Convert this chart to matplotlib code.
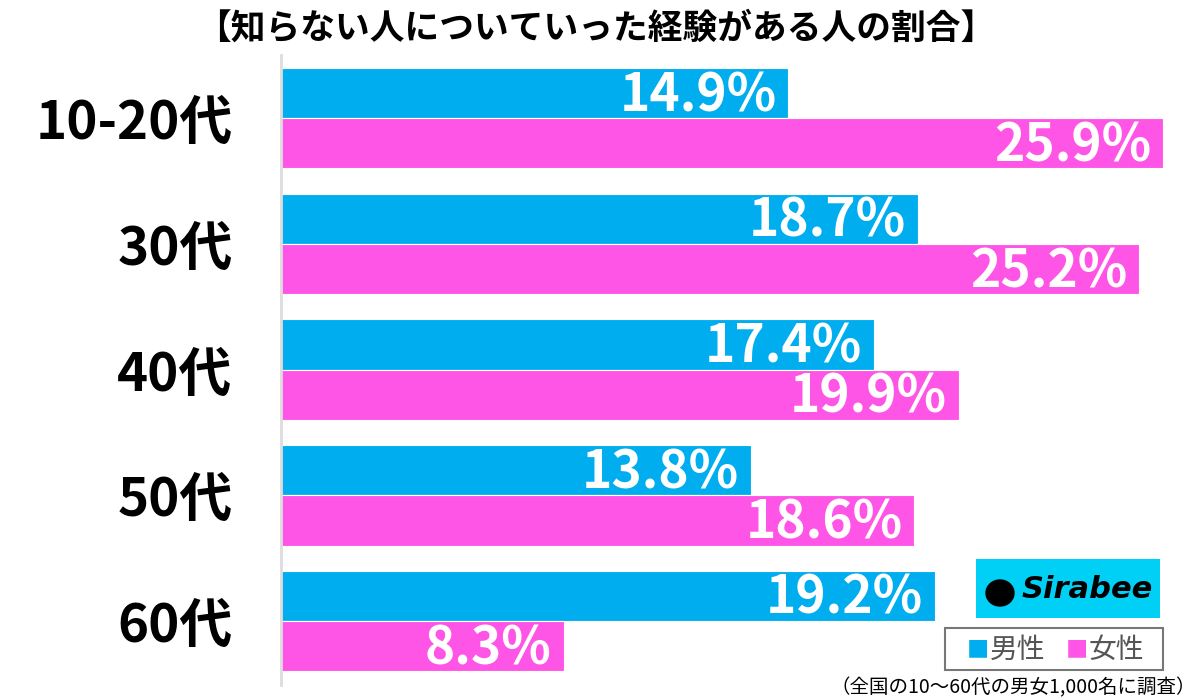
import matplotlib.pyplot as plt
from matplotlib.patches import Rectangle, Ellipse
import numpy as np

plt.rcParams['font.family'] = ['Noto Sans CJK JP', 'DejaVu Sans']

categories = ["10-20代", "30代", "40代", "50代", "60代"]
male = [14.9, 18.7, 17.4, 13.8, 19.2]
female = [25.9, 25.2, 19.9, 18.6, 8.3]
series_names = ["男性", "女性"]
title = "【知らない人についていった経験がある人の割合】"
note = "（全国の10〜60代の男女1,000名に調査）"

BLUE = "#00AEEF"
PINK = "#FF55E6"


def main():
    fig = plt.figure(figsize=(12, 6.99), dpi=100)
    W, H = 1200, 699
    left, right = 281 / W, 1163 / W
    top, bottom = 55 / H, 685 / H
    ax = fig.add_axes([left, 1 - bottom, right - left, bottom - top])

    y = np.arange(len(categories))
    h = 0.4
    ax.barh(y - h / 2, male, height=h, color=BLUE, edgecolor="white", linewidth=0.8)
    ax.barh(y + h / 2, female, height=h, color=PINK, edgecolor="white", linewidth=0.8)

    for yi, v in zip(y, male):
        ax.text(v - 0.35, yi - h / 2 + 0.02, f"{v}%", color="white", fontsize=37,
                fontweight="bold", ha="right", va="center")
    for yi, v in zip(y, female):
        ax.text(v - 0.35, yi + h / 2 + 0.02, f"{v}%", color="white", fontsize=37,
                fontweight="bold", ha="right", va="center")

    ax.set_xlim(0, 25.9)
    ax.set_ylim(4.51, -0.503)
    ax.set_yticks(y)
    ax.set_yticklabels(categories, fontsize=38, fontweight="bold")
    ax.tick_params(axis="y", length=0, pad=35)
    ax.set_xticks([])
    for s in ["top", "right", "bottom"]:
        ax.spines[s].set_visible(False)
    ax.spines["left"].set_color("#dddddd")
    ax.spines["left"].set_linewidth(2)

    fig.text(596 / W, 1 - 28 / H, title, fontsize=25, fontweight="bold",
             ha="center", va="center")

    # Sirabee logo
    fig.patches.append(Rectangle((976 / W, 1 - 618 / H), 184 / W, 59 / H,
                                 transform=fig.transFigure, facecolor="#00D0F5",
                                 edgecolor="none"))
    fig.text(1022 / W, 1 - 590 / H, "Sirabee", fontsize=22, fontweight="bold",
             style="italic", family="DejaVu Sans", ha="left", va="center")
    fig.patches.append(Ellipse((1000 / W, 1 - 593 / H), 28 / W, 26 / H,
                               transform=fig.transFigure, color="black"))

    # legend box
    fig.patches.append(Rectangle((945 / W, 1 - 670 / H), 218 / W, 42 / H,
                                 transform=fig.transFigure, facecolor="white",
                                 edgecolor="#777777", linewidth=1.5))
    fig.text(967 / W, 1 - 650 / H, "■", color=BLUE, fontsize=16, ha="left", va="center")
    fig.text(990 / W, 1 - 650 / H, series_names[0], color="#555555", fontsize=20,
             ha="left", va="center")
    fig.text(1066 / W, 1 - 650 / H, "■", color=PINK, fontsize=16, ha="left", va="center")
    fig.text(1089 / W, 1 - 650 / H, series_names[1], color="#555555", fontsize=20,
             ha="left", va="center")

    fig.text(1196 / W, 1 - 688 / H, note, fontsize=14, ha="right", va="center")

    fig.savefig("out.png", dpi=100)


if __name__ == "__main__":
    main()
